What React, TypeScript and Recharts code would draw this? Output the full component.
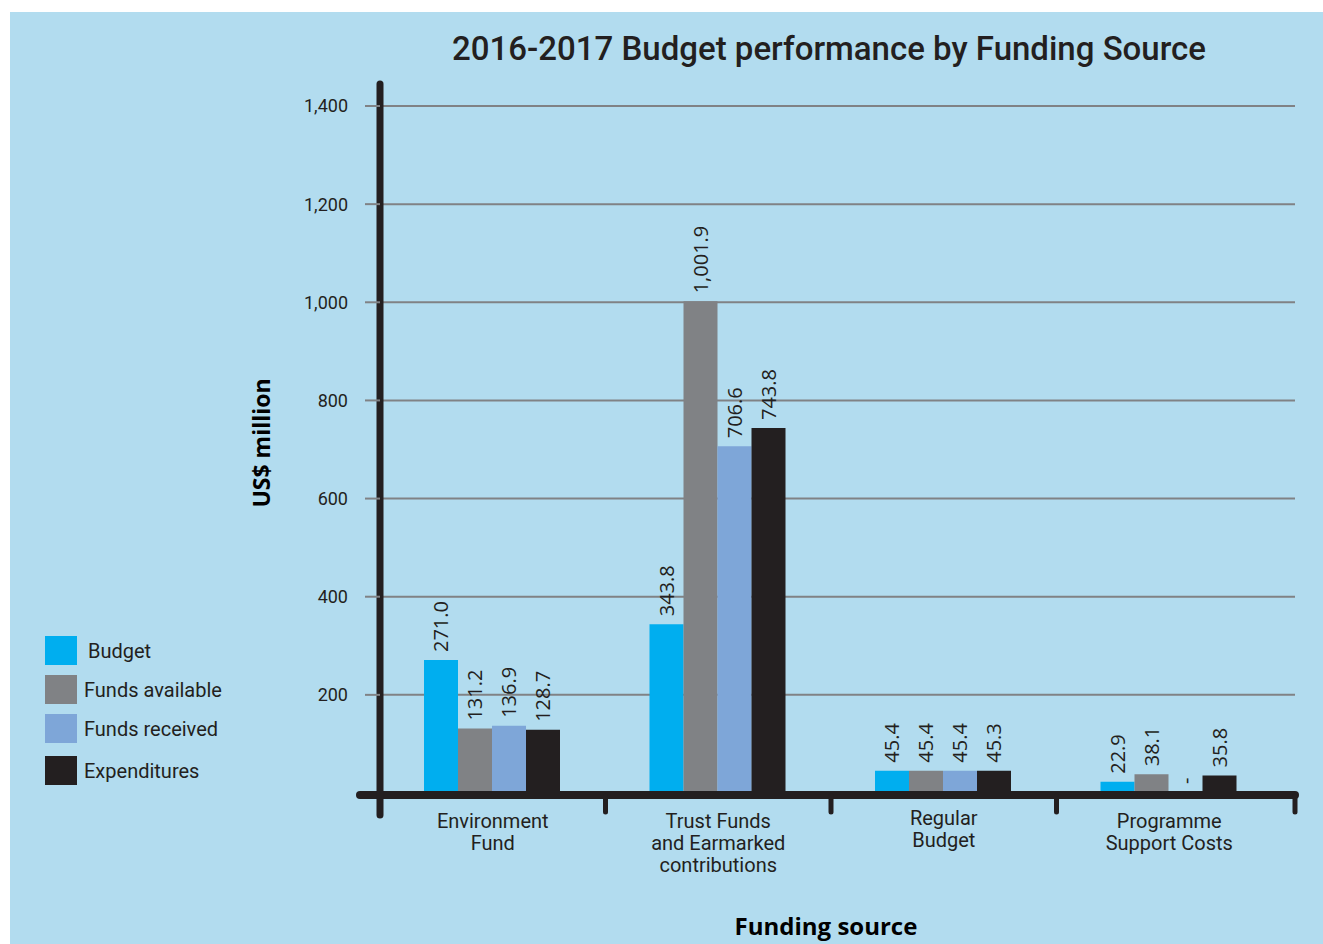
import React from 'react';
import { BarChart, Bar, XAxis, YAxis, CartesianGrid, LabelList, ReferenceLine } from 'recharts';

const categories = [
  'Environment\nFund',
  'Trust Funds\nand Earmarked\ncontributions',
  'Regular\nBudget',
  'Programme\nSupport Costs',
];
const budget = [271.0, 343.8, 45.4, 22.9];
const fundsAvailable = [131.2, 1001.9, 45.4, 38.1];
const fundsReceived: (number | null)[] = [136.9, 706.6, 45.4, null];
const expenditures = [128.7, 743.8, 45.3, 35.8];
const yTicks = [200, 400, 600, 800, 1000, 1200, 1400];

const seriesNames = ['Budget', 'Funds available', 'Funds received', 'Expenditures'];
const seriesColors = ['#00aeef', '#808285', '#7ea6d8', '#231f20'];

const INK = '#231f20';
const PAD_RIGHT = 13;

const chartData = categories.map((name, i) => ({
  name,
  budget: budget[i],
  fundsAvailable: fundsAvailable[i],
  fundsReceived: fundsReceived[i] ?? 0,
  expenditures: expenditures[i],
}));

const fmt = (v: number | null | undefined) =>
  v == null ? '-' : v.toLocaleString('en-US', { minimumFractionDigits: 1, maximumFractionDigits: 1 });

// src holds the original values so a missing one can be shown as "-"
const ValueLabel = (props: any) => {
  const { x, y, width, height, index, src } = props;
  const cx = Number(x) + Number(width) / 2;
  const top = Number(y) + (Number(height) < 0 ? Number(height) : 0) - 8;
  return (
    <text
      x={cx}
      y={top}
      transform={`rotate(-90 ${cx} ${top})`}
      textAnchor="start"
      dominantBaseline="central"
      fontFamily="'Open Sans', sans-serif"
      fontSize={20}
      fill={INK}
    >
      {fmt(src[index])}
    </text>
  );
};

const CategoryTick = (props: any) => {
  const { x, y, payload, index, visibleTicksCount } = props;
  const lines = String(payload.value).split('\n');
  const band = 225.5;
  const isLast = index === (visibleTicksCount ?? 4) - 1;
  const tx = x + band / 2 + (isLast ? PAD_RIGHT : 0);
  const dy = index === 2 ? -3 : 0;
  return (
    <g>
      <line x1={tx} y1={796} x2={tx} y2={812} stroke={INK} strokeWidth={5} strokeLinecap="round" />
      <text
        x={x}
        y={y + 5 + dy}
        textAnchor="middle"
        fontFamily="Roboto, sans-serif"
        fontSize={20}
        fill={INK}
      >
        {lines.map((l, i) => (
          <tspan key={i} x={x} dy={i === 0 ? 0 : 22}>
            {l}
          </tspan>
        ))}
      </text>
    </g>
  );
};

const LegendBox = () => (
  <div
    style={{
      position: 'absolute',
      left: 45,
      top: 636,
      fontFamily: 'Roboto, sans-serif',
      fontSize: 20,
      color: INK,
    }}
  >
    {seriesNames.map((n, i) => (
      <div key={n} style={{ display: 'flex', alignItems: 'center', height: 29, marginBottom: i === 2 ? 13 : 10 }}>
        <div style={{ width: 32, height: 29, background: seriesColors[i], marginRight: i === 0 ? 11 : 7 }} />
        <span>{n}</span>
      </div>
    ))}
  </div>
);

export default function App() {
  return (
    <div style={{ position: 'absolute', left: 0, top: 0, width: 1323, height: 944 }}>
      <div style={{ position: 'absolute', left: 10, top: 12, width: 1313, height: 932, background: '#b2dcef' }} />
      <div
        style={{
          position: 'absolute',
          left: 0,
          width: 1658,
          top: 29,
          textAlign: 'center',
          fontFamily: 'Roboto, sans-serif',
          fontWeight: 500,
          fontSize: 33,
          color: INK,
          lineHeight: '40px',
        }}
      >
        2016-2017 Budget performance by Funding Source
      </div>
      <div
        style={{
          position: 'absolute',
          left: 161,
          top: 428,
          width: 200,
          textAlign: 'center',
          transform: 'rotate(-90deg)',
          fontFamily: "'Open Sans', sans-serif",
          fontWeight: 700,
          fontSize: 23,
          color: '#000',
          lineHeight: '30px',
        }}
      >
        US$ million
      </div>
      <div
        style={{
          position: 'absolute',
          left: 626,
          top: 910,
          width: 400,
          textAlign: 'center',
          fontFamily: "'Open Sans', sans-serif",
          fontWeight: 700,
          fontSize: 24,
          color: '#000',
          lineHeight: '32px',
        }}
      >
        Funding source
      </div>
      <LegendBox />
      <div style={{ position: 'absolute', left: 0, top: 0 }}>
        <BarChart
          width={1323}
          height={944}
          data={chartData}
          margin={{ top: 84, right: 28, bottom: 29, left: 300 }}
          barGap={0}
          barCategoryGap={44}
        >
          <CartesianGrid
            vertical={false}
            horizontalValues={yTicks}
            stroke="#808285"
            strokeWidth={2}
          />
          <XAxis
            dataKey="name"
            height={100}
            axisLine={false}
            tickLine={false}
            interval={0}
            padding={{ left: 0, right: PAD_RIGHT }}
            tick={<CategoryTick />}
          />
          <YAxis
            width={80}
            domain={[0, 1400]}
            ticks={yTicks}
            padding={{ top: 22, bottom: 22 }}
            axisLine={{ stroke: INK, strokeWidth: 7, strokeLinecap: 'round' }}
            tickLine={{ stroke: '#808285', strokeWidth: 2 }}
            tickSize={15}
            tickMargin={17}
            tickFormatter={(v: number) => v.toLocaleString('en-US')}
            tick={{ fontFamily: 'Roboto, sans-serif', fontSize: 18, fill: INK }}
          />
          <Bar dataKey="budget" name={seriesNames[0]} fill={seriesColors[0]} isAnimationActive={false}>
            <LabelList dataKey="budget" content={<ValueLabel src={budget} />} />
          </Bar>
          <Bar dataKey="fundsAvailable" name={seriesNames[1]} fill={seriesColors[1]} isAnimationActive={false}>
            <LabelList dataKey="fundsAvailable" content={<ValueLabel src={fundsAvailable} />} />
          </Bar>
          <Bar
            dataKey="fundsReceived"
            name={seriesNames[2]}
            fill={seriesColors[2]}
            minPointSize={1}
            isAnimationActive={false}
          >
            <LabelList dataKey="fundsReceived" content={<ValueLabel src={fundsReceived} />} />
          </Bar>
          <Bar dataKey="expenditures" name={seriesNames[3]} fill={seriesColors[3]} isAnimationActive={false}>
            <LabelList dataKey="expenditures" content={<ValueLabel src={expenditures} />} />
          </Bar>
          <ReferenceLine
            y={0}
            ifOverflow="visible"
            shape={(p: any) => (
              <line
                x1={p.x1 - 20}
                y1={p.y1 + 2}
                x2={p.x2}
                y2={p.y2 + 2}
                stroke={INK}
                strokeWidth={8}
                strokeLinecap="round"
              />
            )}
          />
        </BarChart>
      </div>
    </div>
  );
}
